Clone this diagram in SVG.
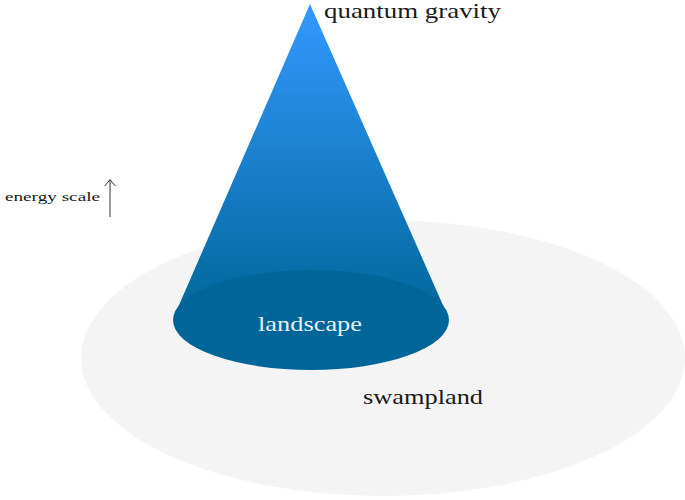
<svg xmlns="http://www.w3.org/2000/svg" width="685" height="500" viewBox="0 0 685 500">
<style>
.lbl{font-family:"Liberation Serif","DejaVu Serif",serif;fill:#1a1a1a}
</style>
<defs>
<linearGradient id="cg" x1="0" y1="4" x2="0" y2="320" gradientUnits="userSpaceOnUse">
<stop offset="0" stop-color="#3399ff"/>
<stop offset="1" stop-color="#006699"/>
</linearGradient>
</defs>
<g id="swampland">
<ellipse cx="383" cy="358" rx="302" ry="138" fill="#f4f4f4"/>
<text class="lbl" x="363" y="404" font-size="21" textLength="120" lengthAdjust="spacingAndGlyphs">swampland</text>
</g>
<g id="cone">
<polygon points="310,4 176,312 446,312" fill="url(#cg)"/>
</g>
<g id="landscape">
<ellipse cx="311" cy="320" rx="138" ry="50" fill="#006699"/>
<text x="258" y="331" font-size="21" textLength="104" lengthAdjust="spacingAndGlyphs" font-family="Liberation Serif,DejaVu Serif,serif" fill="#e8eef5">landscape</text>
</g>
<g id="quantum-gravity">
<text class="lbl" x="324" y="18" font-size="21" textLength="177" lengthAdjust="spacingAndGlyphs">quantum gravity</text>
</g>
<g id="energy-scale">
<text class="lbl" x="5" y="201" font-size="12" textLength="95" lengthAdjust="spacingAndGlyphs">energy scale</text>
</g>
<g id="connectors">
<line x1="110" y1="217" x2="110" y2="180" stroke="#333" stroke-width="1"/>
<path d="M104.5,186 Q107.5,183 110,179.5 Q112.5,183 115.5,186" fill="none" stroke="#333" stroke-width="1"/>
</g>
</svg>
